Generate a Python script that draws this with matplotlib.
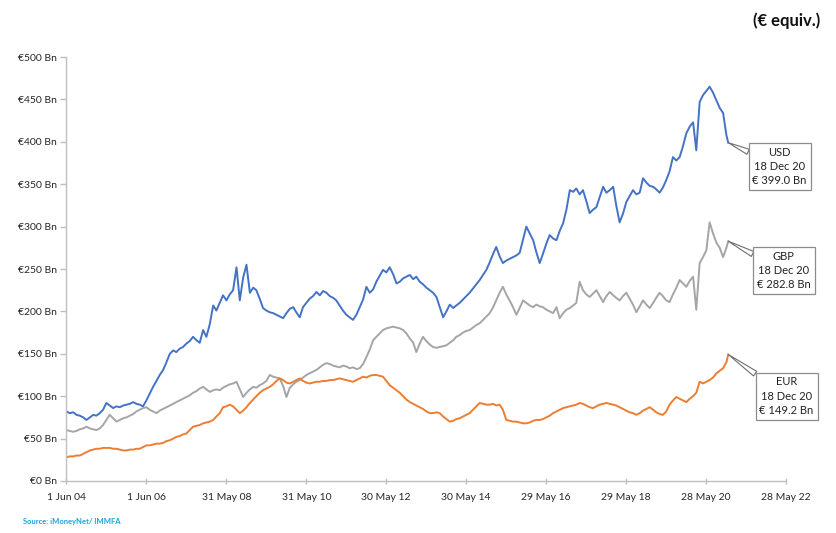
import numpy as np
import pandas as pd
import matplotlib
matplotlib.use("Agg")
import matplotlib.pyplot as plt
import matplotlib.ticker as ticker

plt.rcParams['font.family'] = ['Lato', 'DejaVu Sans']

# %% data (€ bn, month starts Jun 2004 .. Dec 2020)
month_starts = pd.date_range("2004-06-01", "2020-12-01", freq="MS")
last_date = pd.Timestamp("2020-12-18")
end_label = "18 Dec 20"

usd_values = [
    82, 80, 81, 78, 77, 75, 72,
    75, 78, 77, 80, 84, 92, 89, 86, 88, 87, 89, 90,
    91, 93, 91, 90, 88, 95, 103, 111, 118, 125, 131, 140,
    150, 154, 152, 156, 158, 162, 165, 170, 166, 163, 178, 170,
    185, 207, 201, 210, 219, 213, 220, 225, 252, 213, 240, 255,
    222, 228, 225, 215, 204, 201, 199, 198, 196, 194, 192, 198,
    203, 205, 199, 193, 205, 210, 215, 218, 223, 219, 224, 222,
    218, 216, 213, 207, 201, 196, 193, 190, 196, 205, 214, 229,
    222, 226, 235, 242, 249, 246, 252, 244, 233, 235, 239, 241,
    243, 238, 241, 235, 232, 228, 225, 222, 217, 205, 193, 200,
    208, 204, 207, 210, 214, 218, 222, 227, 232, 237, 243, 249,
    258, 268, 276, 265, 257, 260, 262, 264, 266, 269, 285, 300,
    292, 284, 270, 257, 268, 280, 290, 286, 284, 295, 304, 320,
    343, 341, 345, 338, 343, 330, 316, 320, 323, 335, 347, 340,
    343, 347, 325, 305, 315, 329, 336, 343, 338, 340, 357, 352,
    348, 347, 344, 340, 346, 355, 365, 382, 378, 382, 395, 410,
    418, 423, 390, 447, 455, 460, 465, 458, 449, 440, 434, 408,
]
usd_last = 399.0

gbp_values = [
    60, 59, 58, 59, 61, 62, 64,
    62, 61, 60, 62, 66, 72, 78, 74, 70, 72, 74, 75,
    77, 79, 82, 84, 86, 87, 84, 82, 80, 83, 85, 87,
    89, 91, 93, 95, 97, 99, 101, 104, 106, 109, 111, 108,
    105, 107, 108, 107, 110, 112, 114, 115, 117, 108, 99, 104,
    108, 111, 110, 113, 115, 118, 125, 123, 122, 121, 112, 99,
    110, 114, 117, 119, 122, 125, 127, 129, 131, 134, 137, 139,
    138, 136, 135, 134, 136, 135, 133, 134, 132, 133, 138, 146,
    155, 166, 170, 174, 178, 180, 181, 182, 181, 180, 178, 174,
    168, 163, 152, 162, 170, 165, 161, 158, 157, 158, 159, 160,
    163, 166, 170, 172, 175, 177, 178, 181, 184, 186, 190, 194,
    198, 205, 213, 222, 229, 220, 213, 205, 196, 204, 213, 210,
    207, 205, 208, 206, 205, 202, 200, 198, 205, 192, 198, 202,
    204, 207, 210, 235, 225, 220, 217, 221, 225, 218, 211, 218,
    223, 219, 216, 213, 218, 222, 215, 208, 199, 206, 213, 208,
    204, 210, 216, 222, 218, 213, 211, 220, 228, 237, 233, 229,
    236, 241, 202, 257, 264, 272, 305, 292, 281, 275, 264, 275,
]
gbp_last = 282.8

eur_values = [
    28, 29, 29, 30, 30, 32, 34,
    36, 37, 38, 38, 39, 39, 39, 38, 38, 37, 36, 36,
    37, 37, 38, 38, 40, 42, 42, 43, 44, 44, 45, 47,
    48, 50, 52, 53, 55, 56, 60, 64, 65, 66, 68, 69,
    70, 72, 76, 80, 87, 88, 90, 88, 84, 80, 83, 87,
    92, 96, 100, 104, 107, 109, 111, 114, 118, 121, 119, 116,
    115, 117, 119, 121, 118, 116, 115, 116, 117, 117, 118, 118,
    119, 119, 120, 121, 120, 119, 118, 117, 119, 121, 123, 122,
    124, 125, 125, 124, 123, 118, 113, 110, 107, 104, 100, 96,
    93, 91, 89, 87, 85, 82, 80, 80, 81, 80, 76, 73,
    70, 71, 73, 74, 76, 78, 80, 84, 88, 92, 91, 90,
    90, 91, 89, 90, 84, 72, 71, 70, 70, 69, 68, 68,
    69, 71, 72, 72, 73, 75, 77, 80, 82, 84, 86, 87,
    88, 89, 90, 92, 91, 89, 87, 86, 88, 90, 91, 92,
    91, 90, 89, 87, 85, 83, 81, 80, 78, 80, 83, 85,
    87, 84, 81, 79, 78, 82, 90, 95, 99, 97, 95, 93,
    97, 100, 104, 117, 115, 117, 119, 122, 127, 130, 133, 140,
]
eur_last = 149.2

series_names = ["USD", "GBP", "EUR"]
series_colors = ["#4472C4", "#A5A5A5", "#ED7D31"]

x_ticks = ["2004-06-01", "2006-06-01", "2008-05-31", "2010-05-31", "2012-05-30",
           "2014-05-30", "2016-05-29", "2018-05-29", "2020-05-28", "2022-05-28"]
x_tick_labels = ["1 Jun 04", "1 Jun 06", "31 May 08", "31 May 10", "30 May 12",
                 "30 May 14", "29 May 16", "29 May 18", "28 May 20", "28 May 22"]
y_ticks = [0, 50, 100, 150, 200, 250, 300, 350, 400, 450, 500]

# %% plot
fig = plt.figure(figsize=(8.36, 5.33), dpi=100)
ax = fig.add_axes([0.0795, 0.0976, 0.8605, 0.7954])

dates = list(month_starts) + [last_date]
all_values = [usd_values + [usd_last], gbp_values + [gbp_last], eur_values + [eur_last]]
offsets = [(37, -17), (40, -21), (42, -30)]  # callout box offsets (pt)

for name, color, v, off in zip(series_names, series_colors, all_values, offsets):
    ax.plot(dates, v, color=color, lw=1.4, solid_joinstyle="round")
    ax.annotate(f"{name}\n{end_label}\n€ {v[-1]:.1f} Bn",
                xy=(dates[-1], v[-1]), xytext=off, textcoords="offset points",
                ha="center", va="center", fontsize=8, color="#222222",
                linespacing=1.35,
                bbox=dict(boxstyle="square,pad=0.35", fc="white", ec="#8C8C8C", lw=0.9),
                arrowprops=dict(arrowstyle="wedge,tail_width=0.5,shrink_factor=0.5",
                                fc="white", ec="#6E6E6E", lw=0.8,
                                shrinkA=0, shrinkB=0))

xt = pd.to_datetime(x_ticks)
ax.set_xlim(xt[0], xt[-1])
ax.set_xticks(xt)
ax.set_xticklabels(x_tick_labels)
ax.set_ylim(0, 500)
ax.set_yticks(y_ticks)
ax.yaxis.set_major_formatter(ticker.FuncFormatter(lambda y, p: f"€{y:.0f} Bn"))

for s in ["top", "right"]:
    ax.spines[s].set_visible(False)
for s in ["left", "bottom"]:
    ax.spines[s].set_color("#BFBFBF")
    ax.spines[s].set_linewidth(1.0)
ax.tick_params(axis="both", colors="#BFBFBF", labelcolor="#262626", labelsize=7.5,
               direction="inout", length=5, width=1.0)
ax.tick_params(axis="x", pad=6)
ax.tick_params(axis="y", direction="out", length=4, pad=3)

fig.text(0.981, 0.962, "(€ equiv.)", ha="right", va="center",
         fontsize=12, fontweight="bold", color="#111111")
fig.text(0.027, 0.021, "Source: iMoneyNet/ IMMFA", ha="left", va="center",
         fontsize=5.5, fontweight="bold", color="#1FA3D6")

fig.savefig("out.png", dpi=100)
